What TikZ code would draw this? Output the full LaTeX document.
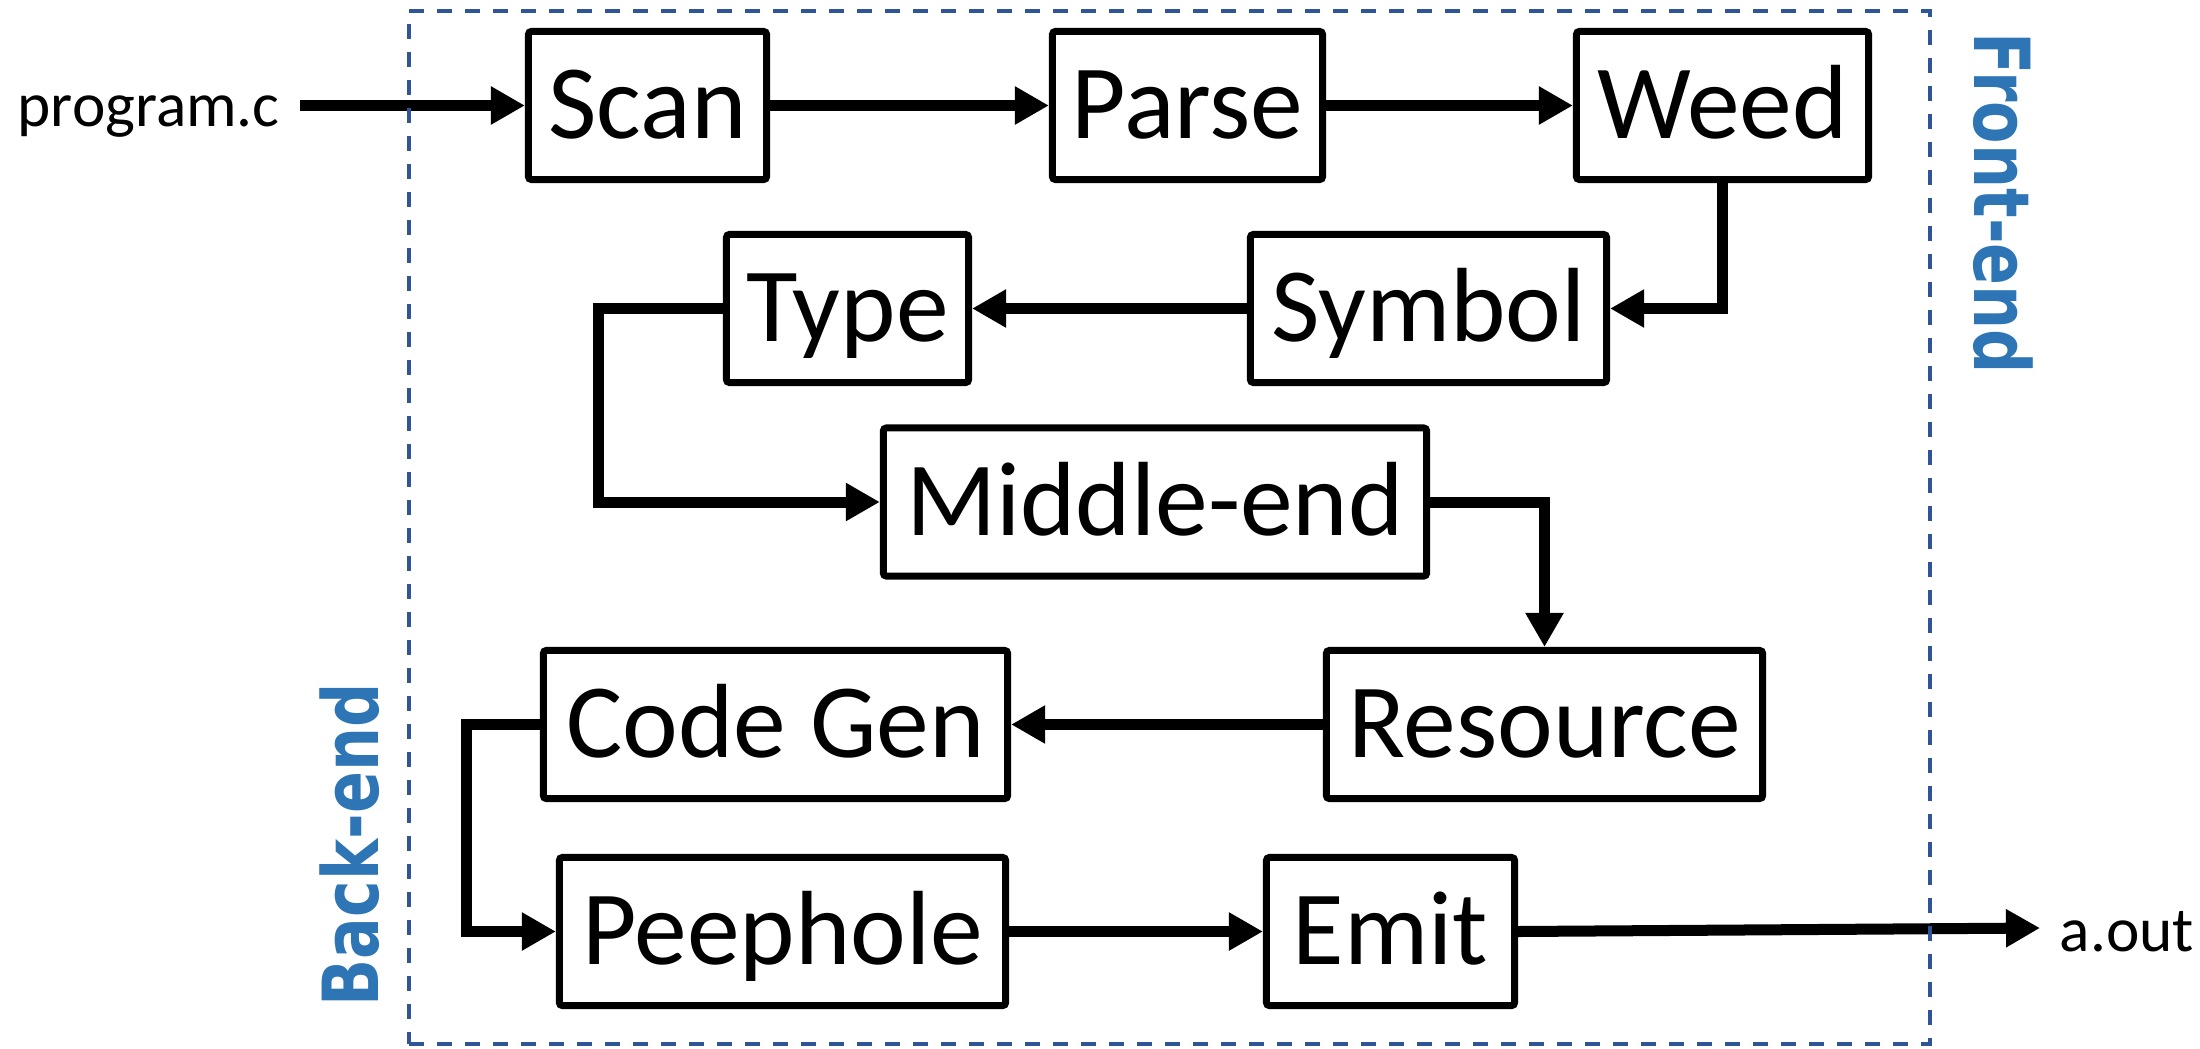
\documentclass[tikz,border=0pt]{standalone}
\usepackage{graphicx}
\usepackage{fontspec}
\setmainfont{Carlito}
\newfontfamily\labelfont{DejaVu Sans}
\usetikzlibrary{arrows.meta}
\definecolor{frameblue}{HTML}{2F5597}
\definecolor{stageblue}{HTML}{2E75B6}
\begin{document}
\begin{tikzpicture}[x=0.01cm, y=-0.01cm,
  stage/.style={draw, line width=0.07cm, rounded corners=0.03cm,
    minimum height=1.48cm, text height=19pt, text depth=0pt, inner sep=0pt,
    font=\fontsize{30}{36}\selectfont},
  conn/.style={line width=0.11cm, -{Triangle[length=0.34cm, width=0.36cm]}},
  iolabel/.style={anchor=base west, inner sep=0pt, font=\fontsize{18}{22}\selectfont},
  partlabel/.style={text=stageblue, inner sep=0pt,
    font=\labelfont\bfseries\fontsize{22}{26}\selectfont},
  frame/.style={draw=frameblue, line width=0.04cm, dash pattern=on 0.15cm off 0.13cm,
    minimum width=15.21cm, minimum height=10.33cm, inner sep=0pt}
]
\useasboundingbox (0,0) rectangle (2200,1048);

% compiler stages
\node[stage, minimum width=2.38cm] (scan)     at (647.5,105.5)  {Scan};
\node[stage, minimum width=2.70cm] (parse)    at (1187.5,105.5) {Parse};
\node[stage, minimum width=2.92cm] (weed)     at (1722.5,105.5) {Weed};
\node[stage, minimum width=3.56cm] (symbol)   at (1428.5,308.5) {Symbol};
\node[stage, minimum width=2.42cm] (type)     at (847.5,308.5)  {Type};
\node[stage, minimum width=5.43cm] (middle)   at (1155,502)     {Middle-end};
\node[stage, minimum width=4.36cm] (resource) at (1544.5,724.5) {Resource};
\node[stage, minimum width=4.64cm] (codegen)  at (775.5,724.5)  {Code Gen};
\node[stage, minimum width=4.46cm] (peephole) at (782.5,931.5)  {Peephole};
\node[stage, minimum width=2.48cm] (emit)     at (1390.5,931.5) {Emit};

% input and output
\node[iolabel] (prog) at (17,126)  {program.c};
\node[iolabel] (aout) at (2059,951) {a.out};
\coordinate (inbeg)  at (300,105.5);
\coordinate (outend) at (2040,928);

% data flow
\draw[conn] (inbeg) -- (scan.west);
\draw[conn] (scan) -- (parse);
\draw[conn] (parse) -- (weed);
\draw[conn] (weed.south) |- (symbol.east);
\draw[conn] (symbol) -- (type);
\draw[conn] (type.west) -- ++(-124,0) |- (middle.west);
\draw[conn] (middle.east) -| (resource.north);
\draw[conn] (resource) -- (codegen);
\draw[conn] (codegen.west) -- ++(-73,0) |- (peephole.west);
\draw[conn] (peephole) -- (emit);
\draw[conn] (emit.east) -- (outend);

% front-end / back-end frame
\node[frame] (box) at (1169.5,527.5) {};
\node[partlabel, rotate=-90] (front) at (2003,203.5) {\scalebox{0.8}[1]{Front-end}};
\node[partlabel, rotate=90]  (back)  at (350,845)    {\scalebox{0.8}[1]{Back-end}};
\end{tikzpicture}
\end{document}
